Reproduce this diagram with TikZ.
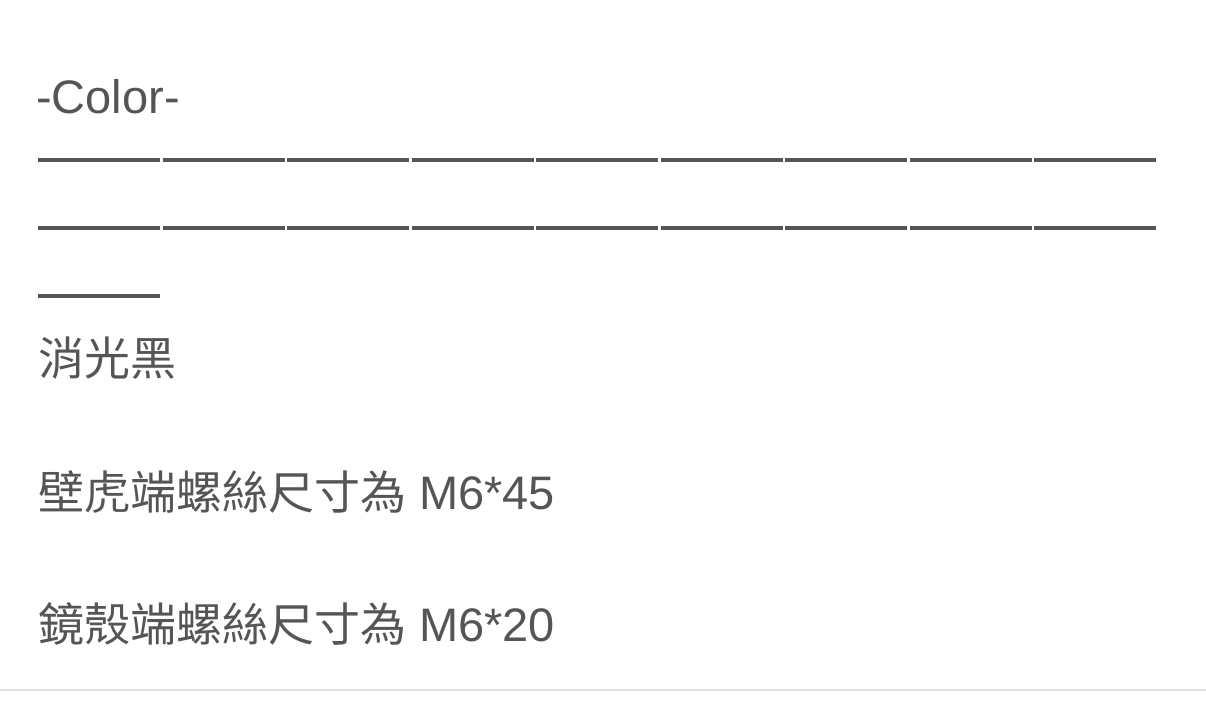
\documentclass[tikz,border=0pt]{standalone}
\usepackage{fontspec}
\setmainfont{Liberation Sans}
\newfontfamily\cjk{Noto Sans CJK TC}
\definecolor{txtgray}{RGB}{85,85,85}
\definecolor{rulegray}{RGB}{225,225,225}
\newcommand{\zh}[1]{{\cjk\fontsize{46}{54}\selectfont #1}}
\tikzset{
  line/.style={color=txtgray, anchor=west, inner sep=0pt, font=\fontsize{47}{54}\selectfont},
  dashrule/.style={txtgray, line width=3.5pt}
}
\begin{document}
\begin{tikzpicture}[x=1pt,y=1pt,yscale=-1]
\useasboundingbox (0,0) rectangle (1206,711);

\node[line] (color) at (36,97) {-Color-};
% em dash rows
\foreach \i in {0,...,8} {
  \draw[dashrule] (38+\i*124.5,160) -- (160+\i*124.5,160);
  \draw[dashrule] (38+\i*124.5,228) -- (160+\i*124.5,228);
}
\draw[dashrule] (38,296) -- (160,296);

\node[line] (finish) at (38,358) {\zh{消光黑}};
\node[line] (wall) at (38,492) {\zh{壁虎端螺絲尺寸為} M6*45};
\node[line] (shell) at (38,624) {\zh{鏡殼端螺絲尺寸為} M6*20};

\draw[rulegray, line width=1.5pt] (0,690) -- (1206,690);
\end{tikzpicture}
\end{document}
